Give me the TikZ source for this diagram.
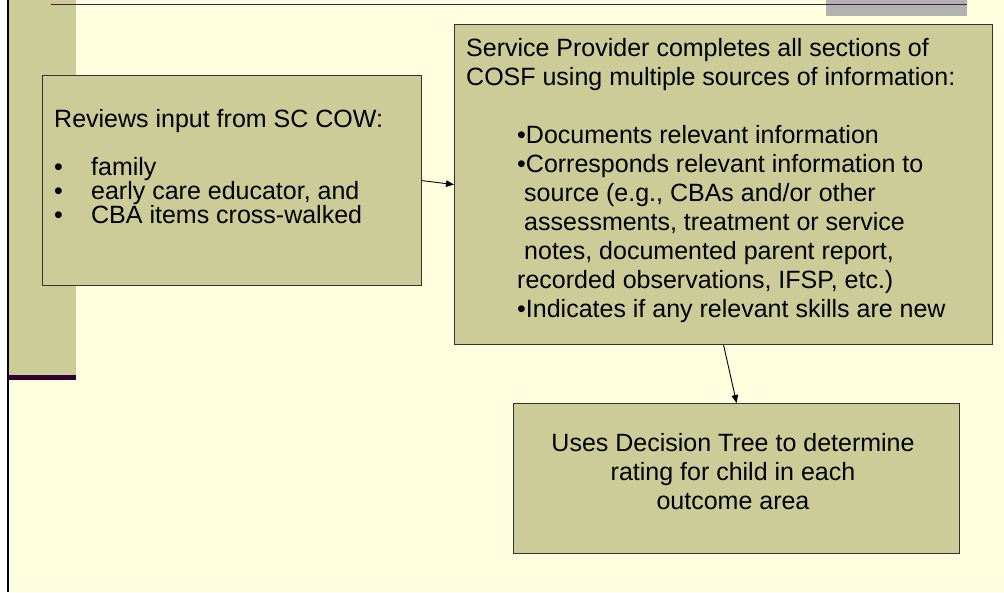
\documentclass[tikz,border=0pt]{standalone}
\usepackage{fontspec}
\setmainfont{Liberation Sans}
\usetikzlibrary{arrows.meta}
\definecolor{paper}{HTML}{FFFFE0}
\definecolor{olive}{HTML}{CCCC99}
\definecolor{plum}{HTML}{330033}
\definecolor{rule}{HTML}{4A1A4A}
\definecolor{slab}{HTML}{B2B2B2}
\definecolor{rim}{HTML}{333333}

\begin{document}
\begin{tikzpicture}[x=1pt,y=-1pt,
  box/.style={draw=rim,line width=1.2pt,fill=olive,anchor=north west,inner sep=0pt},
  txt/.style={anchor=base west,inner sep=0pt,font=\fontsize{25}{29}\selectfont},
  link/.style={line width=0.9pt,-{Triangle[length=8pt,width=6.5pt]}}]
\useasboundingbox (0,0) rectangle (1004,592);
\fill[white] (0,0) rectangle (1004,592);
\fill[paper] (8,0) rectangle (1004,592);
\fill[olive] (8,0) rectangle (76,375);
\fill[plum] (8,375) rectangle (76,380);
\fill[slab] (826,0) rectangle (967,16);
\draw[rule,line width=1.8pt] (51,4.5) -- (967,4.5);
\draw[line width=1.7pt] (8,0) -- (8,592);
\node[box,minimum width=379pt,minimum height=210pt] (review) at (42,75) {};
\node[box,minimum width=538pt,minimum height=320pt] (cosf) at (454,24) {};
\node[box,minimum width=446pt,minimum height=150pt] (tree) at (513,403) {};
\node[txt] (reviewtext) at (54,127) {\parbox[t]{360pt}{\fontsize{25}{24}\selectfont\raggedright
  Reviews input from SC COW:\\[24pt]
  \makebox[37pt][l]{•}family\\
  \makebox[37pt][l]{•}early care educator, and\\
  \makebox[37pt][l]{•}CBA items cross-walked}};
\node[txt] (cosftext) at (466,56) {\parbox[t]{520pt}{\fontsize{25}{29}\selectfont\raggedright
  Service Provider completes all sections of\\
  COSF using multiple sources of information:\\[29pt]
  \hspace*{51pt}•Documents relevant information\\
  \hspace*{51pt}•Corresponds relevant information to\\
  \hspace*{58pt}source (e.g., CBAs and/or other\\
  \hspace*{58pt}assessments, treatment or service\\
  \hspace*{58pt}notes, documented parent report,\\
  \hspace*{51pt}recorded observations, IFSP, etc.)\\
  \hspace*{51pt}•Indicates if any relevant skills are new}};
\node[txt,anchor=base] (treetext) at (733,451) {\parbox[t]{446pt}{\fontsize{25}{29}\selectfont\centering
  Uses Decision Tree to determine\\
  rating for child in each\\
  outcome area}};
\draw[link] (review.east) -- (cosf.west);
\draw[link] (cosf.south) -- (tree.north);
\end{tikzpicture}
\end{document}
